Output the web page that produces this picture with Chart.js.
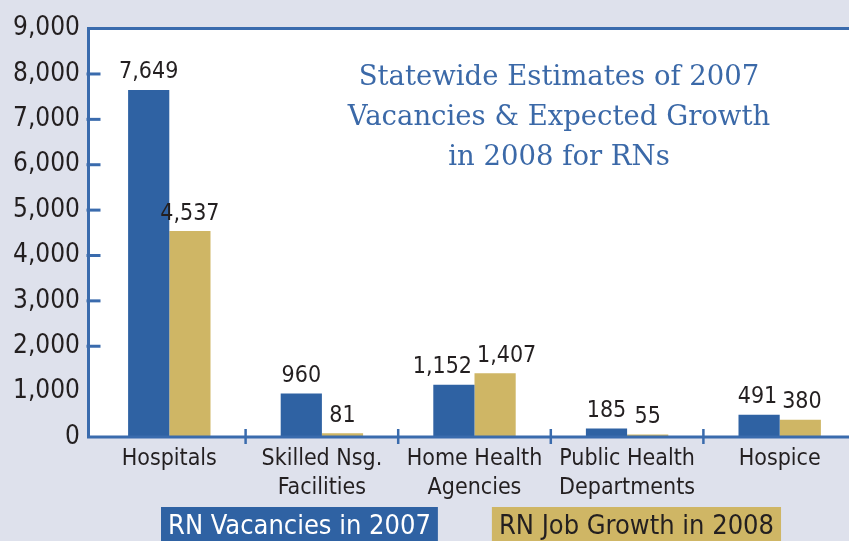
<!DOCTYPE html>
<html><head><meta charset="utf-8">
<script src="https://cdn.jsdelivr.net/npm/chart.js@4.4.1/dist/chart.umd.min.js"></script>
<style>
html,body{margin:0;padding:0;background:#dee1ec;overflow:hidden;}
#wrap{width:856px;height:541px;}
</style></head>
<body><div id="wrap"><canvas id="c" width="856" height="541"></canvas></div>
<script>
const categories = [["Hospitals"], ["Skilled Nsg.", "Facilities"], ["Home Health", "Agencies"], ["Public Health", "Departments"], ["Hospice"]];
const vacancies2007 = [7649, 960, 1152, 185, 491];
const growth2008 = [4537, 81, 1407, 55, 380];
const seriesNames = ["RN Vacancies in 2007", "RN Job Growth in 2008"];
const titleLines = ["Statewide Estimates of 2007", "Vacancies & Expected Growth", "in 2008 for RNs"];
const yMin = 0, yMax = 9000, yStep = 1000;

const BLUE = '#2f62a3', TAN = '#cfb665', AXIS = '#3a6bad', TXT = '#231f20';
const SANS = '"DejaVu Sans Condensed", "DejaVu Sans", sans-serif';
const AXIS_X = 88.5;

const fmt = v => v.toLocaleString('en-US');

const deco = {
  id: 'deco',
  beforeDraw(chart) {
    const {ctx, chartArea: a} = chart;
    ctx.save();
    ctx.fillStyle = '#dee1ec';
    ctx.fillRect(0, 0, chart.width, chart.height);
    ctx.fillStyle = '#ffffff';
    ctx.fillRect(AXIS_X, a.top, a.right - AXIS_X, a.bottom - a.top);
    ctx.restore();
  },
  afterDatasetsDraw(chart) {
    const {ctx, chartArea: a, scales} = chart;
    ctx.save();
    ctx.strokeStyle = AXIS; ctx.lineWidth = 3;
    ctx.beginPath(); ctx.moveTo(AXIS_X - 1.5, a.bottom); ctx.lineTo(a.right, a.bottom); ctx.stroke();
    ctx.beginPath(); ctx.moveTo(AXIS_X, a.bottom); ctx.lineTo(AXIS_X, a.top); ctx.lineTo(a.right, a.top); ctx.stroke();
    scales.y.ticks.forEach(t => {
      if (t.value < 2 * yStep || t.value >= yMax) return;
      const y = scales.y.getPixelForValue(t.value);
      ctx.beginPath(); ctx.moveTo(AXIS_X - 2, y); ctx.lineTo(AXIS_X + 12, y); ctx.stroke();
    });
    ctx.lineWidth = 2.5;
    for (let i = 1; i < categories.length; i++) {
      const x = (scales.x.getPixelForValue(i - 1) + scales.x.getPixelForValue(i)) / 2;
      ctx.beginPath(); ctx.moveTo(x, a.bottom - 8); ctx.lineTo(x, a.bottom + 7); ctx.stroke();
    }
    ctx.fillStyle = TXT;
    ctx.font = '23px ' + SANS;
    ctx.textAlign = 'center'; ctx.textBaseline = 'bottom';
    const m0 = chart.getDatasetMeta(0).data, m1 = chart.getDatasetMeta(1).data;
    const d0 = chart.data.datasets[0].data, d1 = chart.data.datasets[1].data;
    for (let i = 0; i < categories.length; i++) {
      const t0 = fmt(d0[i]), t1 = fmt(d1[i]);
      let x0 = m0[i].x, x1 = m1[i].x;
      const w0 = ctx.measureText(t0).width, w1 = ctx.measureText(t1).width;
      const y0 = m0[i].y - 6, y1 = m1[i].y - 6;
      const overlapV = Math.abs(y0 - y1) < 24;
      const over = (x0 + w0 / 2 + 5) - (x1 - w1 / 2);
      if (overlapV && over > 0) { x0 -= over / 2; x1 += over / 2; }
      ctx.fillText(t0, x0, y0);
      ctx.fillText(t1, x1, y1);
    }
    ctx.fillStyle = '#3b69a8';
    ctx.font = '27.5px "DejaVu Serif", serif';
    ctx.textBaseline = 'middle';
    titleLines.forEach((l, i) => ctx.fillText(l, 559, 78 + i * 40));
    ctx.font = '27px ' + SANS;
    const pad = 7, gap = 54;
    const widths = chart.data.datasets.map(ds => ctx.measureText(ds.label).width + pad * 2);
    let x = 161;
    chart.data.datasets.forEach((ds, di) => {
      ctx.fillStyle = ds.backgroundColor;
      ctx.fillRect(x, 507, widths[di], 40);
      ctx.fillStyle = di === 0 ? '#ffffff' : TXT;
      ctx.textAlign = 'left';
      ctx.fillText(ds.label, x + pad, 527);
      x += widths[di] + gap;
    });
    ctx.restore();
  }
};

new Chart(document.getElementById('c'), {
  type: 'bar',
  data: {
    labels: categories,
    datasets: [
      {label: seriesNames[0], data: vacancies2007, backgroundColor: BLUE},
      {label: seriesNames[1], data: growth2008, backgroundColor: TAN}
    ]
  },
  options: {
    responsive: false,
    animation: false,
    devicePixelRatio: 1,
    layout: {padding: {top: 25, left: 0, right: 0, bottom: 0}},
    categoryPercentage: 0.54,
    barPercentage: 1.0,
    plugins: {legend: {display: false}, tooltip: {enabled: false}, title: {display: false}},
    scales: {
      x: {
        grid: {display: false, drawTicks: false},
        border: {display: false},
        ticks: {color: TXT, font: {family: SANS, size: 23, lineHeight: 1.25}, padding: 8, maxRotation: 0, autoSkip: false},
        afterFit(s) { s.height = 104; }
      },
      y: {
        min: yMin, max: yMax,
        grid: {display: false, drawTicks: false},
        border: {display: false},
        ticks: {stepSize: yStep, color: TXT, font: {family: SANS, size: 26}, padding: 13, callback: v => fmt(v)},
        afterFit(s) { s.width = 93; }
      }
    }
  },
  plugins: [deco]
});
</script></body></html>
